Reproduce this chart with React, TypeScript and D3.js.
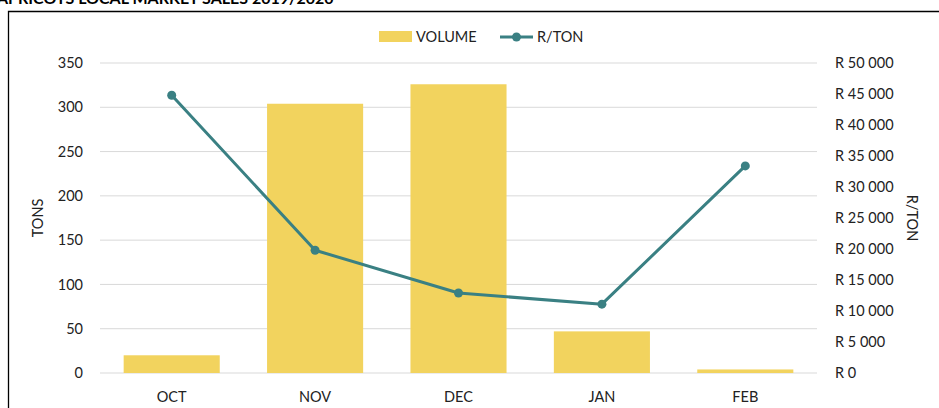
import React from 'react';
import * as d3 from 'd3';

const months = ['OCT', 'NOV', 'DEC', 'JAN', 'FEB'];
const volume = [20, 304, 326, 47, 4];
const randPerTon = [44800, 19800, 12900, 11100, 33400];
const tonTicks = [0, 50, 100, 150, 200, 250, 300, 350];
const randTicks = [0, 5000, 10000, 15000, 20000, 25000, 30000, 35000, 40000, 45000, 50000];

const W = 939;
const H = 408;
const FONT = 'Lato, "Open Sans", sans-serif';
const BAR = '#F2D35E';
const LINE = '#3A8083';
const FS = 14.5;

const fmtRand = (v: number) => 'R ' + d3.format(',')(v).replace(/,/g, ' ');

export default function App() {
  const left = 100;
  const right = 817;
  const top = 63;
  const bottom = 373;

  const x = d3.scaleBand<string>().domain(months).range([left, right]).paddingInner(0.33).paddingOuter(0.165);
  const yL = d3.scaleLinear().domain([0, 350]).range([bottom, top]);
  const yR = d3.scaleLinear().domain([0, 50000]).range([bottom, top]);
  const cx = (m: string) => (x(m) as number) + x.bandwidth() / 2;

  const line = d3.line<number>()
    .x((_, i) => cx(months[i]))
    .y(d => yR(d));

  return (
    <svg width={W} height={H} style={{ position: 'absolute', left: 0, top: 0, background: '#fff' }} fontFamily={FONT}>
      {/* title is clipped by the top edge, as in the original */}
      <text x={-3} y={4} fontSize={16} fontWeight="bold" fill="#000">APRICOTS LOCAL MARKET SALES 2019/2020</text>
      <path d={`M8.5,${H} V11.5 H${W}`} fill="none" stroke="#000" strokeWidth={1.3} />

      {tonTicks.map(t => (
        <g key={t}>
          <line x1={left} x2={right} y1={yL(t)} y2={yL(t)} stroke="#d9d9d9" strokeWidth={1} />
          <text x={83} y={yL(t)} dy="0.35em" textAnchor="end" fontSize={FS} fill="#222">{t}</text>
        </g>
      ))}
      {randTicks.map(t => (
        <text key={t} x={835} y={yR(t)} dy="0.35em" fontSize={FS} fill="#222">{fmtRand(t)}</text>
      ))}

      {volume.map((v, i) => (
        <rect key={months[i]} x={x(months[i])} y={yL(v)} width={x.bandwidth()} height={bottom - yL(v)} fill={BAR} />
      ))}

      <path d={line(randPerTon) || ''} fill="none" stroke={LINE} strokeWidth={3} strokeLinejoin="round" />
      {randPerTon.map((v, i) => (
        <circle key={months[i]} cx={cx(months[i])} cy={yR(v)} r={4.5} fill={LINE} />
      ))}

      {months.map(m => (
        <text key={m} x={cx(m)} y={397} dy="0.35em" textAnchor="middle" fontSize={FS} fill="#222">{m}</text>
      ))}

      <text transform="translate(38,218) rotate(-90)" textAnchor="middle" dy="0.35em" fontSize={FS} fill="#222">TONS</text>
      <text transform="translate(912,218) rotate(90)" textAnchor="middle" dy="0.35em" fontSize={FS} fill="#222">R/TON</text>

      <rect x={379} y={31} width={33} height={11} fill={BAR} />
      <text x={416} y={37} dy="0.35em" fontSize={FS} fill="#222">VOLUME</text>
      <line x1={500} x2={533} y1={37} y2={37} stroke={LINE} strokeWidth={3} />
      <circle cx={516.5} cy={37} r={4.5} fill={LINE} />
      <text x={537} y={37} dy="0.35em" fontSize={FS} fill="#222">R/TON</text>
    </svg>
  );
}
